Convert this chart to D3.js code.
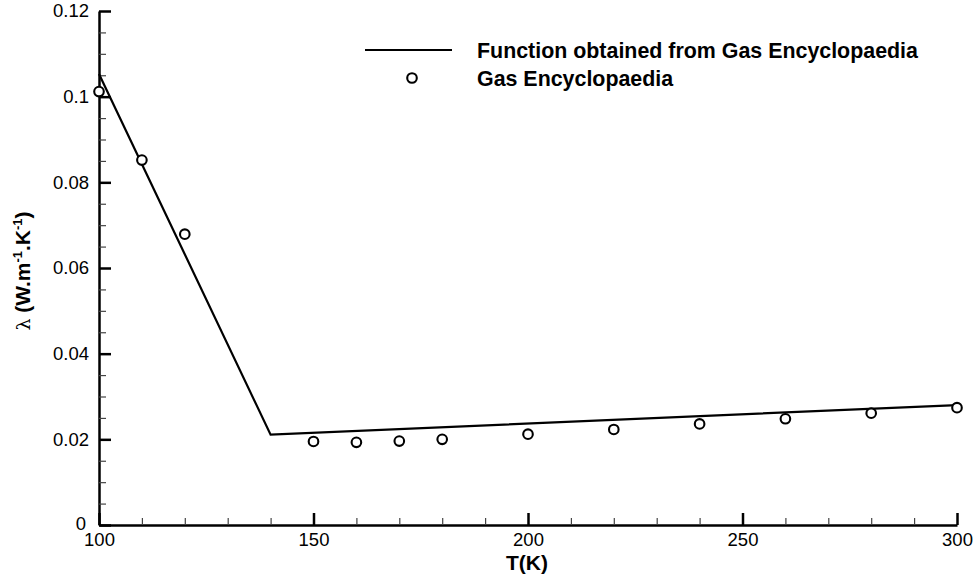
<!DOCTYPE html>
<html>
<head>
<meta charset="utf-8">
<script src="https://cdn.jsdelivr.net/npm/d3@7"></script>
<style>
  html, body { margin: 0; padding: 0; background: #fff; }
  svg { display: block; font-family: "Liberation Sans", Arial, sans-serif; }
</style>
</head>
<body>
<svg id="chart" width="974" height="583"></svg>
<script>
// Thermal conductivity vs temperature
const fitT = [100, 140, 300];
const fitLambda = [0.1053, 0.0211, 0.0280];

const dataT = [100, 110, 120, 150, 160, 170, 180, 200, 220, 240, 260, 280, 300];
const dataLambda = [0.1012, 0.0852, 0.0679, 0.0195, 0.0193, 0.0196, 0.0200, 0.0212, 0.0223, 0.0236, 0.0248, 0.0261, 0.0274];

const xMajor = [100, 150, 200, 250, 300];
const xMinor = [110, 120, 130, 140, 160, 170, 180, 190, 210, 220, 230, 240, 260, 270, 280, 290];
const yMajor = [0, 0.02, 0.04, 0.06, 0.08, 0.1, 0.12];
const yMinor = [0.005, 0.01, 0.015, 0.025, 0.03, 0.035, 0.045, 0.05, 0.055,
                0.065, 0.07, 0.075, 0.085, 0.09, 0.095, 0.105, 0.11, 0.115];

const legendLabels = ["Function obtained from Gas Encyclopaedia", "Gas Encyclopaedia"];

const svg = d3.select("#chart");
const x = d3.scaleLinear().domain([100, 300]).range([99, 957]);
const y = d3.scaleLinear().domain([0, 0.12]).range([525, 11]);

// y axis: major ticks inward, minor ticks shorter
const yAxisMajor = d3.axisLeft(y).tickValues(yMajor).tickSizeInner(-12).tickSizeOuter(0)
  .tickPadding(10).tickFormat(d => d === 0 ? "0" : String(+d.toFixed(2)));
const gy = svg.append("g").attr("transform", `translate(${x(100)},0)`).call(yAxisMajor);
gy.select(".domain").attr("stroke", "#000").attr("stroke-width", 2.5);
gy.selectAll(".tick line").attr("stroke", "#000").attr("stroke-width", 2.5);
gy.selectAll(".tick text").attr("font-size", 18.5).attr("fill", "#000")
  .attr("font-family", "Liberation Sans, Arial, sans-serif");
// the zero label sits just above the first x label
gy.selectAll(".tick").filter(d => d === 0).select("text").attr("x", -13).attr("dy", "0.22em");

const gyMinor = svg.append("g").attr("transform", `translate(${x(100)},0)`)
  .call(d3.axisLeft(y).tickValues(yMinor).tickSizeInner(-7).tickSizeOuter(0).tickFormat(""));
gyMinor.select(".domain").remove();
gyMinor.selectAll(".tick line").attr("stroke", "#444").attr("stroke-width", 1.2);

// x axis
const xAxisMajor = d3.axisBottom(x).tickValues(xMajor).tickSizeInner(-12).tickSizeOuter(0)
  .tickPadding(6).tickFormat(d3.format("d"));
const gx = svg.append("g").attr("transform", `translate(0,${y(0)})`).call(xAxisMajor);
gx.select(".domain").attr("stroke", "#000").attr("stroke-width", 2.5);
gx.selectAll(".tick line").attr("stroke", "#000").attr("stroke-width", 2.5);
gx.selectAll(".tick text").attr("font-size", 18.5).attr("fill", "#000")
  .attr("font-family", "Liberation Sans, Arial, sans-serif").attr("y", 8);

const gxMinor = svg.append("g").attr("transform", `translate(0,${y(0)})`)
  .call(d3.axisBottom(x).tickValues(xMinor).tickSizeInner(-7).tickSizeOuter(0).tickFormat(""));
gxMinor.select(".domain").remove();
gxMinor.selectAll(".tick line").attr("stroke", "#444").attr("stroke-width", 1.2);

// axis titles
svg.append("text")
  .attr("x", 527).attr("y", 570)
  .attr("text-anchor", "middle").attr("font-size", 21).attr("font-weight", "bold")
  .text("T(K)");

const yTitle = svg.append("text")
  .attr("transform", `translate(30,271) rotate(-90)`)
  .attr("text-anchor", "middle").attr("font-size", 21).attr("font-weight", "bold");
yTitle.append("tspan").attr("font-family", "DejaVu Serif, serif").attr("font-weight", "normal")
  .attr("font-size", 19).text("λ");
yTitle.append("tspan").text(" (W.m");
yTitle.append("tspan").attr("font-size", 13).attr("dy", -8).text("-1");
yTitle.append("tspan").attr("dy", 8).text(".K");
yTitle.append("tspan").attr("font-size", 13).attr("dy", -8).text("-1");
yTitle.append("tspan").attr("dy", 8).text(")");

// fitted function
const line = d3.line().x((d, i) => x(fitT[i])).y(d => y(d));
svg.append("path").datum(fitLambda)
  .attr("d", line).attr("fill", "none").attr("stroke", "#000").attr("stroke-width", 2.2);

// data points
svg.append("g").selectAll("circle").data(dataLambda).join("circle")
  .attr("cx", (d, i) => x(dataT[i])).attr("cy", d => y(d)).attr("r", 4.8)
  .attr("fill", "#fff").attr("stroke", "#000").attr("stroke-width", 2.1);

// legend
const lg = svg.append("g");
lg.append("line").attr("x1", 365).attr("x2", 452).attr("y1", 50).attr("y2", 50)
  .attr("stroke", "#000").attr("stroke-width", 2.2);
lg.append("circle").attr("cx", 412).attr("cy", 78).attr("r", 4.8)
  .attr("fill", "#fff").attr("stroke", "#000").attr("stroke-width", 2.1);
lg.selectAll("text").data(legendLabels).join("text")
  .attr("x", 477).attr("y", (d, i) => 58 + i * 28)
  .attr("font-size", 21.4).attr("font-weight", "bold").text(d => d);
</script>
</body>
</html>
